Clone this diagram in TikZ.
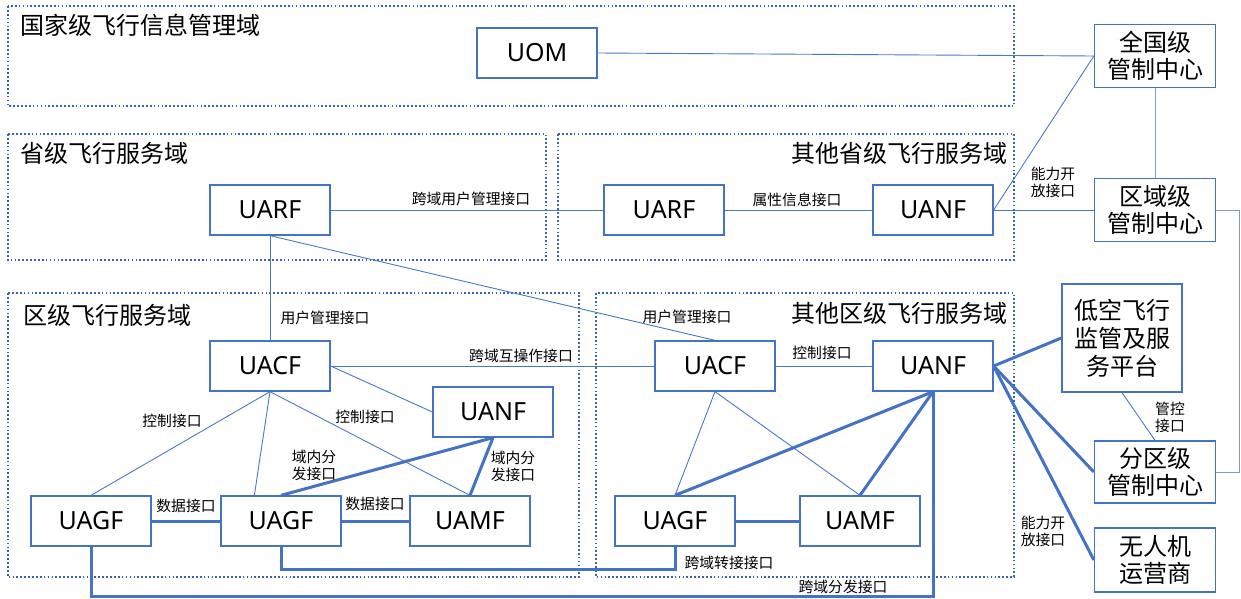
\documentclass[tikz,border=0pt]{standalone}
\usepackage{fontspec}
\setmainfont{Noto Sans CJK SC}
\newfontfamily\latfont{Noto Sans}
\usetikzlibrary{calc}
\definecolor{nodeblue}{HTML}{4472C4}
\definecolor{domblue}{HTML}{3A62B0}
\definecolor{lineblue}{HTML}{4A78C8}
\definecolor{lightline}{HTML}{7C9CD6}

\begin{document}
\begin{tikzpicture}[x=1pt,y=-1pt,
  domainbox/.style={draw=domblue, line width=1.7pt, dash pattern=on 1.7pt off 2.2pt},
  nf/.style={draw=nodeblue, line width=1.3pt, fill=white, minimum width=120pt,
    minimum height=50pt, inner sep=0pt, font=\latfont\fontsize{25}{28}\selectfont},
  ctr/.style={draw=nodeblue, line width=1.3pt, fill=white, minimum width=121pt,
    minimum height=63pt, inner sep=0pt, align=center, font=\fontsize{24}{27}\selectfont},
  dtitle/.style={font=\fontsize{24}{27}\selectfont, inner sep=0pt},
  lbl/.style={font=\fontsize{14.8}{17}\selectfont, inner sep=0pt, align=center},
  thinline/.style={draw=lineblue, line width=0.9pt},
  softline/.style={draw=lightline, line width=1pt},
  thickline/.style={draw=nodeblue, line width=3pt},
]
\useasboundingbox (0,0) rectangle (1241,598);

% domains
\draw[domainbox] (8,6) rectangle (1014,106);
\draw[domainbox] (8,134) rectangle (546,260);
\draw[domainbox] (558,134) rectangle (1014,260);
\draw[domainbox] (8,293) rectangle (579,577);
\draw[domainbox] (596,293) rectangle (1014,577);

\node[dtitle, anchor=west] (t1) at (20,25) {国家级飞行信息管理域};
\node[dtitle, anchor=west] (t2) at (20,153) {省级飞行服务域};
\node[dtitle, anchor=east] (t3) at (1008,153) {其他省级飞行服务域};
\node[dtitle, anchor=west] (t4) at (23,315) {区级飞行服务域};
\node[dtitle, anchor=east] (t5) at (1008,313) {其他区级飞行服务域};

% function nodes
\node[nf] (uom) at (537,53) {UOM};
\node[nf] (uarfA) at (270,210) {UARF};
\node[nf] (uarfB) at (664,210) {UARF};
\node[nf] (uanfP) at (933,210) {UANF};
\node[nf] (uacfA) at (270,366) {UACF};
\node[nf] (uanfA) at (493,412) {UANF};
\node[nf] (uagfA) at (91,521) {UAGF};
\node[nf] (uagfB) at (281,521) {UAGF};
\node[nf] (uamfA) at (470,521) {UAMF};
\node[nf] (uacfB) at (715,366) {UACF};
\node[nf] (uanfB) at (933,366) {UANF};
\node[nf] (uagfC) at (675,521) {UAGF};
\node[nf] (uamfB) at (860,521) {UAMF};

% control centres and platforms
\node[ctr] (nat) at (1155,56) {全国级\\管制中心};
\node[ctr] (reg) at (1155,210) {区域级\\管制中心};
\node[ctr, minimum height=62pt] (sub) at (1155,472) {分区级\\管制中心};
\node[ctr, minimum height=64pt] (uav) at (1155,560) {无人机\\运营商};
\node[ctr, minimum width=120pt, minimum height=108pt, font=\fontsize{24}{28}\selectfont]
  (plat) at (1122,338) {低空飞行\\监管及服\\务平台};

% helper points
\coordinate (rt) at (1239,472);
\coordinate (relay) at (675,569);
\coordinate (dist) at (933,596);

% national / regional links
\draw[thinline] (uom.east) -- (nat.west);
\draw[thinline] (uanfP.east) -- (nat.west);
\draw[thinline] (uanfP.east) -- (reg.west);
\draw[softline] (nat.south) -- (reg.north);
\draw[softline] (reg.east) -| (rt) -- (sub.east);

% provincial links
\draw[thinline] (uarfA.east) -- (uarfB.west);
\draw[thinline] (uarfB.east) -- (uanfP.west);
\draw[thinline] (uarfA.south) -- (uacfA.north);
\draw[thinline] (uarfA.south) -- (uacfB.north);

% district links
\draw[thinline] (uacfA.east) -- (uacfB.west);
\draw[thinline] (uacfA.east) -- (uanfA.west);
\draw[thinline] (uacfA.south) -- (uagfA.north);
\draw[thinline] (uacfA.south) -- ([xshift=34pt]uagfB.north west);
\draw[thinline] (uacfA.south) -- (uamfA.north);
\draw[thickline] (uagfB.north) -- (uanfA.south);
\draw[thickline] (uanfA.south) -- (uamfA.north);
\draw[thickline] (uagfA.east) -- (uagfB.west);
\draw[thickline] (uagfB.east) -- (uamfA.west);

% other district links
\draw[thinline] (uacfB.east) -- (uanfB.west);
\draw[thinline] (uacfB.south) -- (uagfC.north);
\draw[thinline] (uacfB.south) -- (uamfB.north);
\draw[thickline] (uanfB.south) -- (uagfC.north);
\draw[thickline] (uanfB.south) -- (uamfB.north);
\draw[thickline] (uagfC.east) -- (uamfB.west);

% cross-domain links
\draw[thickline] (uagfB.south) |- (relay) -- (uagfC.south);
\draw[thickline] (uagfA.south) |- (dist) -- (uanfB.south);

% open interfaces
\draw[thickline] (uanfB.east) -- (plat.west);
\draw[thickline] (uanfB.east) -- (sub.west);
\draw[thickline] (uanfB.east) -- (uav.west);
\draw[thinline] (plat.south) -- (sub.north);

% interface labels
\node[lbl] (l1) at (471,199) {跨域用户管理接口};
\node[lbl] (l2) at (797,200) {属性信息接口};
\node[lbl] (l3) at (1053,182) {能力开\\放接口};
\node[lbl] (l4) at (325,318) {用户管理接口};
\node[lbl] (l5) at (687,317) {用户管理接口};
\node[lbl] (l6) at (521,356) {跨域互操作接口};
\node[lbl] (l7) at (172,421) {控制接口};
\node[lbl] (l8) at (365,417) {控制接口};
\node[lbl] (l9) at (822,353) {控制接口};
\node[lbl] (l10) at (314,465) {域内分\\发接口};
\node[lbl] (l11) at (513,466) {域内分\\发接口};
\node[lbl] (l12) at (186,506) {数据接口};
\node[lbl] (l13) at (375,504) {数据接口};
\node[lbl] (l14) at (729,563) {跨域转接接口};
\node[lbl] (l15) at (843,587) {跨域分发接口};
\node[lbl] (l16) at (1170,417) {管控\\接口};
\node[lbl] (l17) at (1043,531) {能力开\\放接口};
\end{tikzpicture}
\end{document}
